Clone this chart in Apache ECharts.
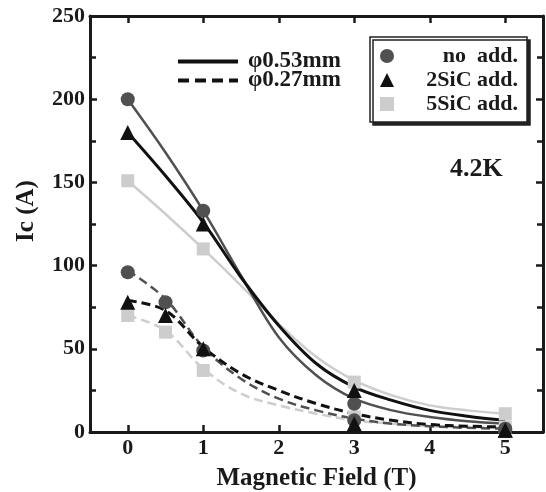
<!DOCTYPE html>
<html><head><meta charset="utf-8">
<script src="https://cdn.jsdelivr.net/npm/echarts@6/dist/echarts.min.js"></script>
<style>html,body{margin:0;padding:0;background:#fff}#c{width:546px;height:492px}</style>
</head><body><div id="c"></div>
<script>
// ---- data ----
const fieldTicks = [0, 1, 2, 3, 4, 5];
const curveField = [0, 0.5, 1, 1.5, 2, 2.5, 3, 3.5, 4, 4.5, 5];

// fitted curves, phi 0.53 mm (solid)
const fitNoAdd053 = [200, 168, 133, 94, 57, 34, 20, 13, 9, 6.5, 5];
const fit2SiC053  = [180, 154, 126, 93, 64, 41, 27, 19, 13, 9.5, 7];
const fit5SiC053  = [151, 131, 110, 88, 65, 45, 31, 22, 16, 13, 11];
// fitted curves, phi 0.27 mm (dashed)
const fitNoAdd027 = [97, 80, 51, 32, 20, 13, 8, 5, 3.5, 2.5, 2];
const fit2SiC027  = [79, 73, 51, 35, 25, 17, 11, 7, 4.5, 3.5, 3];
const fit5SiC027  = [70, 61, 38, 23, 16, 11, 7, 5, 3.5, 3, 2.5];

// measured points
const field053 = [0, 1, 3, 5];
const ptNoAdd053 = [200, 133, 17, 2];
const pt2SiC053  = [180, 125, 25, 1];
const pt5SiC053  = [151, 110, 30, 11];
const field027 = [0, 0.5, 1, 3, 5];
const ptNoAdd027 = [96, 78, 49, 7, 1];
const pt2SiC027  = [78, 70, 50, 5, 1];
const pt5SiC027  = [70, 60, 37, 9, 3];

const nameSolid = 'φ0.53mm', nameDash = 'φ0.27mm';
const nameNo = 'no  add.', name2 = '2SiC add.', name5 = '5SiC add.';
const yTicksMax = 250;

// ---- styles ----
const FONT = "'Liberation Serif','Times New Roman',serif";
const cNo = '#505050', c2 = '#111111', c5 = '#cdcdcd';
const zip = (xs, ys) => xs.map((x, i) => [x, ys[i]]);

function fitLine(name, ys, color, width, dashed) {
  return { name, type: 'line', data: zip(curveField, ys), smooth: 0.35, symbol: 'none',
    xAxisIndex: 0, yAxisIndex: 0, z: 2,
    lineStyle: { color, width, type: dashed ? [9, 5] : 'solid' }, itemStyle: { color } };
}
function pts(name, xs, ys, color, symbol, size) {
  return { name, type: 'scatter', data: zip(xs, ys), symbol, symbolSize: size,
    xAxisIndex: 0, yAxisIndex: 0, z: 5, itemStyle: { color, opacity: 1 } };
}

const axisLine = { show: true, onZero: false, lineStyle: { color: '#1a1a1a', width: 3 } };
const xTick = { show: true, inside: true, length: 7, customValues: fieldTicks, lineStyle: { color: '#1a1a1a', width: 2.5 } };
const yTick = { show: true, inside: true, length: 7, lineStyle: { color: '#1a1a1a', width: 2.5 } };
const yMinor = { show: true, splitNumber: 2, length: 6, lineStyle: { color: '#1a1a1a', width: 2.5 } };

const option = {
  animation: false,
  backgroundColor: '#fff',
  title: { text: '4.2K', left: 445, top: 151,
    textStyle: { fontFamily: FONT, fontWeight: 'bold', fontSize: 26, color: '#1a1a1a' } },
  grid: { left: 90, right: 3, top: 16, bottom: 60, containLabel: false, outerBoundsMode: 'none' },
  xAxis: [
    { type: 'value', position: 'bottom', min: -0.5, max: 5.5,
      name: 'Magnetic Field (T)', nameLocation: 'middle', nameGap: 34,
      nameTextStyle: { fontFamily: FONT, fontWeight: 'bold', fontSize: 25, color: '#1a1a1a' },
      axisLine, axisTick: xTick, splitLine: { show: false },
      axisLabel: { customValues: fieldTicks, margin: 5, fontFamily: FONT, fontWeight: 'bold', fontSize: 22, color: '#1a1a1a' } },
    { type: 'value', position: 'top', min: -0.5, max: 5.5,
      axisLine, axisTick: xTick, splitLine: { show: false }, axisLabel: { show: false } }
  ],
  yAxis: [
    { type: 'value', position: 'left', min: 0, max: yTicksMax, interval: 50,
      name: 'Ic (A)', nameLocation: 'middle', nameGap: 51, nameRotate: 90,
      nameTextStyle: { fontFamily: FONT, fontWeight: 'bold', fontSize: 25, color: '#1a1a1a', padding: [0, 0, 0, 26] },
      axisLine, axisTick: yTick, minorTick: yMinor, splitLine: { show: false },
      axisLabel: { margin: 5, fontFamily: FONT, fontWeight: 'bold', fontSize: 22, color: '#1a1a1a' } },
    { type: 'value', position: 'right', min: 0, max: yTicksMax, interval: 50,
      axisLine, axisTick: yTick, minorTick: yMinor, splitLine: { show: false }, axisLabel: { show: false } }
  ],
  legend: [
    { orient: 'vertical', left: 176, top: 50, padding: 0, itemGap: -4,
      itemWidth: 60, itemHeight: 14, selectedMode: false,
      data: [
        { name: nameSolid, lineStyle: { color: '#111', width: 4, type: 'solid' }, itemStyle: { color: 'rgba(0,0,0,0)', opacity: 0 } },
        { name: nameDash, lineStyle: { color: '#111', width: 4, type: [11, 6] }, itemStyle: { color: 'rgba(0,0,0,0)', opacity: 0 } }
      ],
      textStyle: { fontFamily: FONT, fontWeight: 'bold', fontSize: 23, color: '#1a1a1a', padding: [0, 0, 0, 5] } },
    { orient: 'vertical', left: 370, top: 37, padding: [8, 9, 7, 10], itemGap: 2,
      itemWidth: 14, itemHeight: 14, selectedMode: false,
      backgroundColor: '#fff', borderColor: '#222', borderWidth: 1.5,
      shadowColor: '#222', shadowBlur: 0, shadowOffsetX: 3, shadowOffsetY: 3,
      data: [nameNo, name2, name5],
      formatter: '{r|{name}}',
      textStyle: { fontFamily: FONT, fontWeight: 'bold', fontSize: 22, color: '#1a1a1a',
        rich: { r: { width: 119, align: 'right', fontFamily: FONT, fontWeight: 'bold', fontSize: 22, lineHeight: 22, color: '#1a1a1a' } } } }
  ],
  series: [
    fitLine('fit 5SiC 0.53', fit5SiC053, c5, 2.5, false),
    fitLine('fit no 0.53', fitNoAdd053, cNo, 2.5, false),
    fitLine(nameSolid, fit2SiC053, c2, 3, false),
    fitLine('fit 5SiC 0.27', fit5SiC027, c5, 2.5, true),
    fitLine('fit no 0.27', fitNoAdd027, cNo, 2.5, true),
    fitLine(nameDash, fit2SiC027, c2, 3, true),
    pts(name5, field053, pt5SiC053, c5, 'rect', 13),
    pts(name5, field027, pt5SiC027, c5, 'rect', 13),
    pts(nameNo, field053, ptNoAdd053, cNo, 'circle', 14),
    pts(nameNo, field027, ptNoAdd027, cNo, 'circle', 14),
    pts(name2, field053, pt2SiC053, c2, 'triangle', 15),
    pts(name2, field027, pt2SiC027, c2, 'triangle', 15)
  ]
};
echarts.init(document.getElementById('c'), null, { renderer: 'canvas' }).setOption(option);
</script></body></html>
